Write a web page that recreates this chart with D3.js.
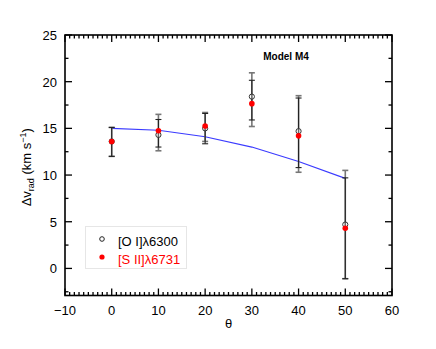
<!DOCTYPE html>
<html><head><meta charset="utf-8">
<script src="https://cdn.jsdelivr.net/npm/d3@7"></script>
<style>body{margin:0;background:#fff}svg{display:block}text{font-family:"Liberation Sans",Arial,sans-serif}</style>
</head><body>
<script>
const theta = [0, 10, 20, 30, 40, 50];
const oiValues = [13.6, 14.3, 15.0, 18.4, 14.7, 4.7];
const oiLow = [12.0, 12.6, 13.6, 15.2, 10.3, -1.1];
const oiHigh = [15.1, 16.5, 16.7, 20.95, 18.5, 10.5];
const siiValues = [13.6, 14.75, 15.25, 17.65, 14.2, 4.3];
const siiLow = [12.0, 13.0, 13.35, 15.9, 10.8, -1.1];
const siiHigh = [15.1, 15.95, 16.6, 20.15, 18.25, 9.7];
const modelTheta = [0, 10, 20, 30, 40, 50];
const modelValues = [15.0, 14.8, 14.1, 13.0, 11.45, 9.65];
const xTicks = [-10, 0, 10, 20, 30, 40, 50, 60];
const yTicks = [0, 5, 10, 15, 20, 25];

const W = 436, H = 349;
const L = 65, R = 392, T = 35, B = 295.5;
const svg = d3.select("body").append("svg").attr("width", W).attr("height", H);
const x = d3.scaleLinear().domain([-10, 60]).range([L, R]);
const y = d3.scaleLinear().domain([-2.9, 25]).range([B, T]);

// ticks
const g = svg.append("g").attr("stroke", "#000").attr("stroke-width", 1.3);
d3.range(-10, 61, 1).forEach(v => {
  const major = v % 10 === 0;
  const len = major ? 7 : 3.5;
  g.append("line").attr("x1", x(v)).attr("x2", x(v)).attr("y1", B).attr("y2", B - len);
  g.append("line").attr("x1", x(v)).attr("x2", x(v)).attr("y1", T).attr("y2", T + len);
});
d3.range(-2.5, 25.01, 2.5).forEach(v => {
  const major = Math.abs(v % 5) < 1e-9;
  const len = major ? 7 : 3.5;
  g.append("line").attr("y1", y(v)).attr("y2", y(v)).attr("x1", L).attr("x2", L + len);
  g.append("line").attr("y1", y(v)).attr("y2", y(v)).attr("x1", R).attr("x2", R - len);
});
svg.append("rect").attr("x", L).attr("y", T).attr("width", R - L).attr("height", B - T)
  .attr("fill", "none").attr("stroke", "#000").attr("stroke-width", 1.6);

// tick labels
svg.append("g").selectAll("text").data(xTicks).join("text")
  .attr("x", d => x(d)).attr("y", B + 19).attr("text-anchor", "middle")
  .attr("font-size", 13).text(d => d < 0 ? "\u2212" + Math.abs(d) : d);
svg.append("g").selectAll("text").data(yTicks).join("text")
  .attr("x", L - 8).attr("y", d => y(d) + 5).attr("text-anchor", "end")
  .attr("font-size", 13).text(d => d);

// axis titles
svg.append("text").attr("x", x(25)).attr("y", 328).attr("text-anchor", "middle")
  .attr("font-size", 13).text("\u03b8");
const yl = svg.append("text").attr("transform", `translate(31,${(T + B) / 2 + 2}) rotate(-90)`)
  .attr("text-anchor", "middle").attr("font-size", 13);
yl.append("tspan").text("\u0394v");
yl.append("tspan").attr("font-size", 9).attr("dy", 3).text("rad");
yl.append("tspan").attr("dy", -3).text(" (km s");
yl.append("tspan").attr("font-size", 9).attr("dy", -5).text("\u22121");
yl.append("tspan").attr("dy", 5).text(")");

// model line
svg.append("path").datum(modelTheta.map((t, i) => [t, modelValues[i]]))
  .attr("fill", "none").attr("stroke", "#3b3bff").attr("stroke-width", 1.2)
  .attr("d", d3.line().x(d => x(d[0])).y(d => y(d[1])));

// error bars
function errBars(lo, hi, color, w) {
  const eg = svg.append("g").attr("stroke", color).attr("stroke-width", w);
  theta.forEach((t, i) => {
    eg.append("line").attr("x1", x(t)).attr("x2", x(t)).attr("y1", y(lo[i])).attr("y2", y(hi[i]));
    [lo[i], hi[i]].forEach(v => eg.append("line").attr("x1", x(t) - 3).attr("x2", x(t) + 3)
      .attr("y1", y(v)).attr("y2", y(v)));
  });
}
errBars(oiLow, oiHigh, "#777", 1.6);
errBars(siiLow, siiHigh, "#222", 1.1);

// points
svg.append("g").selectAll("circle").data(theta).join("circle")
  .attr("cx", d => x(d)).attr("cy", (d, i) => y(oiValues[i])).attr("r", 2.6)
  .attr("fill", "#fff").attr("fill-opacity", 0.3).attr("stroke", "#333").attr("stroke-width", 1);
svg.append("g").selectAll("circle").data(theta).join("circle")
  .attr("cx", d => x(d)).attr("cy", (d, i) => y(siiValues[i])).attr("r", 2.8)
  .attr("fill", "#ff0000");

// title
svg.append("text").attr("x", 286).attr("y", 60).attr("text-anchor", "middle")
  .attr("font-size", 10).attr("font-weight", "bold").text("Model M4");

// legend
svg.append("rect").attr("x", 85.5).attr("y", 226.5).attr("width", 101).attr("height", 42)
  .attr("fill", "#fff").attr("stroke", "#e6e6e6");
svg.append("circle").attr("cx", 102).attr("cy", 239).attr("r", 2.3)
  .attr("fill", "none").attr("stroke", "#222").attr("stroke-width", 1);
svg.append("text").attr("x", 118).attr("y", 246).attr("font-size", 13).text("[O I]\u03bb6300");
svg.append("circle").attr("cx", 102).attr("cy", 257).attr("r", 2.6).attr("fill", "#ff0000");
svg.append("text").attr("x", 118).attr("y", 264).attr("font-size", 13).attr("fill", "#ff0000").text("[S II]\u03bb6731");
</script>
</body></html>
